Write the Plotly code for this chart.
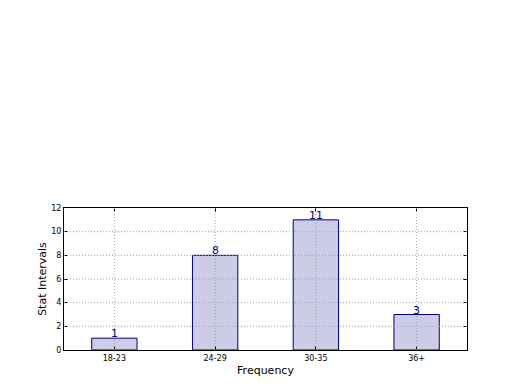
import plotly.graph_objects as go

categories = ["18-23", "24-29", "30-35", "36+"]
values = [1, 8, 11, 3]
y_ticks = [0, 2, 4, 6, 8, 10, 12]

fig = go.Figure()
fig.add_trace(go.Bar(
    x=list(range(len(categories))), y=values, width=0.45,
    marker=dict(color="rgb(204,204,230)", line=dict(color="#000080", width=1)),
    showlegend=False,
))
for i, v in enumerate(values):
    fig.add_annotation(x=i, y=v, text=str(v), showarrow=False, yanchor="bottom",
                       yshift=-4, font=dict(family="DejaVu Sans", size=11, color="#000080"))

grid_line = dict(color="#a0a0a0", width=1, dash="1px,2px")
for i in range(len(categories)):
    fig.add_shape(type="line", xref="x", yref="paper", x0=i, x1=i, y0=0, y1=1,
                  line=grid_line, layer="above")
for t in y_ticks[1:-1]:
    fig.add_shape(type="line", xref="paper", yref="y", x0=0, x1=1, y0=t, y1=t,
                  line=grid_line, layer="above")

fig.update_layout(
    width=520, height=390, paper_bgcolor="white", plot_bgcolor="white",
    margin=dict(l=64, r=53, t=208, b=40),
    font=dict(family="DejaVu Sans", color="black"),
)
fig.update_xaxes(
    range=[-0.5, 3.5], tickvals=list(range(len(categories))), ticktext=categories,
    tickfont=dict(size=8), showgrid=False,
    showline=True, linecolor="black", linewidth=1, mirror="ticks", ticks="inside", ticklen=4,
    tickcolor="black", title=dict(text="Frequency", font=dict(size=11), standoff=4),
    layer="above traces", zeroline=False,
)
fig.update_yaxes(
    range=[0, 12], tickvals=y_ticks, tickfont=dict(size=8), showgrid=False,
    showline=True, linecolor="black", linewidth=1, mirror="ticks", ticks="inside", ticklen=4,
    tickcolor="black", title=dict(text="Stat Intervals", font=dict(size=11), standoff=2),
    layer="above traces", zeroline=False,
)
fig.write_html("out.html")
